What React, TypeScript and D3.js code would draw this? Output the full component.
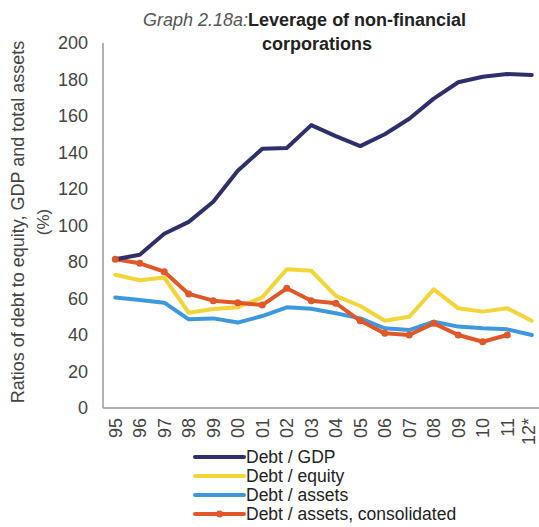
import React from "react";
import * as d3 from "d3";

const years = ["95","96","97","98","99","00","01","02","03","04","05","06","07","08","09","10","11","12*"];
const debtGdp = [81.5, 84, 95.5, 102, 113, 130, 142, 142.5, 155, 149, 143.5, 150, 158.5, 169.5, 178.5, 181.5, 183, 182.5];
const debtEquity = [73, 70, 71.5, 52.2, 54.2, 55.2, 60.6, 76, 75.2, 61.4, 55.9, 47.8, 50, 65, 54.6, 52.8, 54.6, 47.8];
const debtAssets = [60.6, 59.2, 57.7, 48.6, 49.1, 46.8, 50.4, 55.2, 54.4, 51.9, 49.1, 43.7, 42.7, 47.3, 44.6, 43.7, 43.1, 40];
const debtAssetsCons: (number | null)[] = [81.5, 79.3, 74.7, 62.5, 58.8, 57.7, 56.4, 65.6, 58.8, 57.4, 47.8, 40.9, 40, 46.4, 40, 36.3, 40, null];
const yTicks = [0, 20, 40, 60, 80, 100, 120, 140, 160, 180, 200];

const seriesNames = ["Debt / GDP", "Debt / equity", "Debt / assets", "Debt / assets, consolidated"];
const seriesColors = ["#2f2f6b", "#f3d53a", "#3d98de", "#e0582a"];

export default function App() {
  const W = 539, H = 527;
  const x = d3.scaleBand<string>().domain(years).range([103, 103 + 18 * 24.5]).padding(0);
  const y = d3.scaleLinear().domain([0, 200]).range([408, 43]);
  const cx = (i: number) => (x(years[i]) as number) + x.bandwidth() / 2;
  const line = d3
    .line<number | null>()
    .defined((d) => d !== null)
    .x((_, i) => cx(i))
    .y((d) => y(d as number));
  const all = [debtGdp, debtEquity, debtAssets, debtAssetsCons];
  const font = "'Liberation Sans', Arial, sans-serif";
  const order = [2, 1, 3, 0];
  return (
    <svg width={W} height={H} style={{ position: "absolute", left: 0, top: 0, background: "#fff" }} fontFamily={font}>
      <text x={143} y={26} textAnchor="start" fontSize={18} fill="#222">
        <tspan fontStyle="italic" fill="#555">Graph 2.18a:</tspan>
        <tspan fontWeight="bold">Leverage of non-financial</tspan>
      </text>
      <text x={317} y={50} textAnchor="middle" fontSize={18} fontWeight="bold" fill="#222">corporations</text>

      <g transform="translate(24,222) rotate(-90)">
        <text x={0} y={0} textAnchor="middle" fontSize={18} fill="#444">Ratios of debt to equity, GDP and total assets</text>
        <text x={0} y={25} textAnchor="middle" fontSize={17} fill="#444">(%)</text>
      </g>

      {yTicks.map((t) => (
        <text key={t} x={88} y={y(t)} dy="0.35em" textAnchor="end" fontSize={18} fill="#444">{t}</text>
      ))}

      {years.map((yr, i) => (
        <text key={yr} transform={`translate(${Math.min(cx(i), 529)},418) rotate(-90)`} textAnchor="end" dy="0.35em" fontSize={18} fill="#444">{yr}</text>
      ))}

      <line x1={103} x2={103} y1={43} y2={408} stroke="#999" strokeWidth={1.5} />
      <line x1={103} x2={W} y1={408} y2={408} stroke="#999" strokeWidth={1.5} />

      {order.map((k) => (
        <path key={k} d={line(all[k]) || ""} fill="none" stroke={seriesColors[k]} strokeWidth={4} strokeLinejoin="round" strokeLinecap="round" />
      ))}
      {debtAssetsCons.map((v, i) =>
        v === null ? null : <circle key={i} cx={cx(i)} cy={y(v)} r={3.5} fill={seriesColors[3]} />
      )}

      {seriesNames.map((n, i) => {
        const ly = 457 + i * 19;
        return (
          <g key={n}>
            <line x1={195} x2={244} y1={ly} y2={ly} stroke={seriesColors[i]} strokeWidth={4} strokeLinecap="round" />
            {i === 3 && <circle cx={219.5} cy={ly} r={3.5} fill={seriesColors[3]} />}
            <text x={246} y={ly} dy="0.35em" fontSize={17.5} fill="#222">{n}</text>
          </g>
        );
      })}
    </svg>
  );
}
